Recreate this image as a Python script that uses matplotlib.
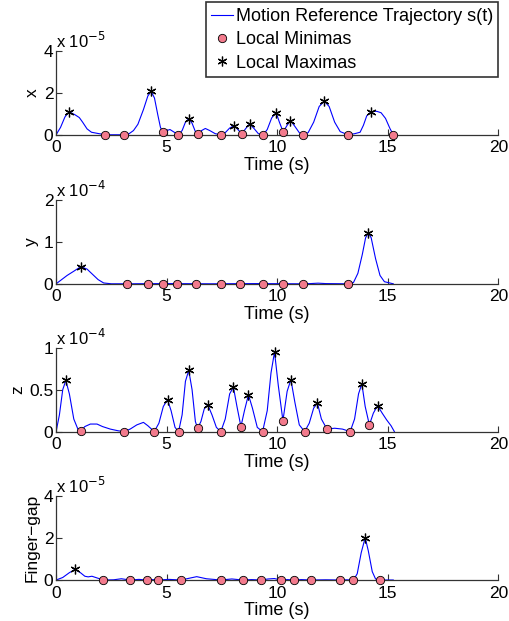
import matplotlib
matplotlib.use("Agg")
import matplotlib.pyplot as plt
from matplotlib.lines import Line2D

plt.rcParams['font.family'] = ['Liberation Sans', 'DejaVu Sans']
plt.rcParams['font.size'] = 12

# trajectory samples (time in s, value in units of the panel scale)
x_t = [0, 0.2, 0.4, 0.59, 0.86, 1.05, 1.2, 1.4, 1.6, 1.9, 2.23, 2.6, 3.08, 3.3, 3.5, 3.7, 3.95, 4.15,
       4.3, 4.45, 4.6, 4.72, 4.84, 5.0, 5.15, 5.3, 5.52, 5.7, 5.85, 6.0, 6.15, 6.3, 6.42, 6.58, 6.75,
       6.95, 7.2, 7.46, 7.65, 7.85, 8.05, 8.22, 8.4, 8.58, 8.75, 8.95, 9.15, 9.37, 9.55, 9.75, 9.95,
       10.1, 10.27, 10.45, 10.6, 10.8, 11.0, 11.17, 11.4, 11.65, 11.9, 12.13, 12.35, 12.6, 12.85,
       13.2, 13.5, 13.75, 13.9, 14.05, 14.25, 14.5, 14.7, 14.9, 15.1, 15.25]
x_v = [0, 0.35, 0.85, 1.1, 0.95, 0.82, 0.6, 0.28, 0.12, 0.06, 0, 0, 0, 0.05, 0.2, 0.5, 1.2, 1.85,
       2.07, 1.75, 0.95, 0.35, 0.12, 0.2, 0.25, 0.15, 0, 0.2, 0.6, 0.77, 0.55, 0.15, 0.03, 0.2, 0.3,
       0.2, 0.05, 0, 0.1, 0.32, 0.43, 0.25, 0.05, 0.3, 0.52, 0.3, 0.05, 0, 0.25, 0.8, 1.06,
       0.6, 0.14, 0.45, 0.68, 0.4, 0.1, 0, 0.1, 0.6, 1.35, 1.6, 1.35, 0.6, 0.15,
       0, 0.05, 0.12, 0.45, 0.9, 1.1, 1.12, 1.05, 0.78, 0.3, 0]
x_min_t = [2.23, 3.08, 4.84, 5.52, 6.42, 7.46, 8.4, 9.37, 10.27, 11.17, 13.2, 15.25]
x_min_v = [0, 0, 0.12, 0, 0.03, 0, 0.05, 0, 0.14, 0, 0, 0]
x_max_t = [0.59, 4.3, 6.0, 8.05, 8.75, 9.95, 10.6, 12.13, 14.25]
x_max_v = [1.1, 2.07, 0.77, 0.43, 0.52, 1.06, 0.68, 1.6, 1.1]

y_t = [0, 0.25, 0.5, 0.8, 1.12, 1.4, 1.7, 1.9, 2.15, 2.5, 3.2, 5.0, 7.0, 9.0, 11.0, 11.5, 11.85,
       12.2, 13.2, 13.45, 13.65, 13.85, 14.0, 14.12, 14.25, 14.45, 14.65, 14.85, 15.25]
y_v = [0, 0.1, 0.2, 0.3, 0.41, 0.35, 0.2, 0.1, 0.02, 0, 0, 0.005, 0, 0.005, 0, 0.005, 0.015,
       0.005, 0, 0.03, 0.25, 0.7, 1.1, 1.21, 1.1, 0.6, 0.2, 0.05, 0]
y_min_t = [3.2, 4.15, 4.85, 5.45, 6.33, 7.46, 8.33, 9.35, 10.27, 11.17, 13.2]
y_min_v = [0] * 11
y_max_t = [1.12, 14.12]
y_max_v = [0.41, 1.21]

z_t = [0, 0.15, 0.3, 0.44, 0.6, 0.8, 1.0, 1.12, 1.3, 1.55, 1.85, 2.1, 2.45, 2.8, 3.08, 3.35, 3.65,
       3.95, 4.15, 4.44, 4.65, 4.85, 5.04, 5.2, 5.38, 5.54, 5.7, 5.85, 6.0, 6.15, 6.3, 6.4, 6.55,
       6.7, 6.86, 7.05, 7.25, 7.45, 7.65, 7.85, 8.02, 8.18, 8.36, 8.52, 8.7, 8.88, 9.1, 9.34, 9.55,
       9.72, 9.88, 10.05, 10.26, 10.45, 10.62, 10.8, 11.0, 11.24, 11.45, 11.65, 11.82, 12.0, 12.25,
       12.6, 12.95, 13.3, 13.5, 13.68, 13.83, 13.98, 14.17, 14.35, 14.54, 14.75, 14.95, 15.15, 15.3]
z_v = [0, 0.2, 0.5, 0.61, 0.45, 0.15, 0.02, 0.01, 0.06, 0.09, 0.09, 0.06, 0.03, 0.01, 0, 0.03, 0.08,
       0.11, 0.07, 0, 0.1, 0.3, 0.38, 0.25, 0.05, 0, 0.2, 0.6, 0.73, 0.5, 0.12, 0.04, 0.12,
       0.27, 0.32, 0.2, 0.05, 0, 0.15, 0.45, 0.53, 0.3, 0.06, 0.25, 0.44, 0.28, 0.05, 0, 0.25,
       0.7, 0.95, 0.55, 0.13, 0.48, 0.62, 0.35, 0.08, 0, 0.1, 0.28, 0.34, 0.15, 0.03,
       0.04, 0.03, 0, 0.15, 0.45, 0.57, 0.3, 0.08, 0.22, 0.31, 0.22, 0.14, 0.07, 0]
z_min_t = [1.12, 3.08, 4.44, 5.54, 6.4, 7.45, 8.36, 9.34, 10.26, 11.24, 12.25, 13.3, 14.17]
z_min_v = [0.01, 0, 0, 0, 0.04, 0, 0.06, 0, 0.13, 0, 0.03, 0, 0.08]
z_max_t = [0.44, 5.04, 6.0, 6.86, 8.02, 8.7, 9.88, 10.62, 11.82, 13.83, 14.54]
z_max_v = [0.61, 0.38, 0.73, 0.32, 0.53, 0.44, 0.95, 0.62, 0.34, 0.57, 0.31]

g_t = [0, 0.3, 0.6, 0.86, 1.1, 1.3, 1.45, 1.62, 1.85, 2.14, 2.6, 2.95, 3.35, 3.75, 4.1, 4.35, 4.62,
       5.1, 5.66, 6.0, 6.36, 6.8, 7.45, 7.95, 8.45, 8.85, 9.26, 9.6, 9.87, 10.17, 10.45, 10.77,
       11.1, 11.52, 12.2, 12.85, 13.15, 13.45, 13.62, 13.8, 13.98, 14.12, 14.3, 14.45, 14.66, 15.25]
g_v = [0, 0.12, 0.35, 0.51, 0.35, 0.18, 0.15, 0.18, 0.1, 0, 0.01, 0.06, 0, 0.03, 0, 0.02, 0,
       0.03, 0, 0.08, 0.16, 0.06, 0, 0.05, 0, 0.02, 0, 0.05, 0.07, 0, 0.02, 0,
       0.02, 0, 0.01, 0, 0.01, 0, 0.3, 1.3, 2.02, 1.4, 0.4, 0.05, 0, 0]
g_min_t = [2.14, 3.35, 4.1, 4.62, 5.66, 7.45, 8.45, 9.26, 10.17, 10.77, 11.52, 12.85, 13.45, 14.66]
g_min_v = [0] * 14
g_max_t = [0.86, 13.98]
g_max_v = [0.51, 2.02]

panels = [
    ("x", x_t, x_v, x_min_t, x_min_v, x_max_t, x_max_v, [0, 2, 4], "-5"),
    ("y", y_t, y_v, y_min_t, y_min_v, y_max_t, y_max_v, [0, 1, 2], "-4"),
    ("z", z_t, z_v, z_min_t, z_min_v, z_max_t, z_max_v, [0, 0.5, 1], "-4"),
    ("Finger\u2212gap", g_t, g_v, g_min_t, g_min_v, g_max_t, g_max_v, [0, 2, 4], "-5"),
]
bottoms = [0.783, 0.543, 0.305, 0.066]

pink = "#F27A8C"
asterisk = (6, 2, 0)  # six-armed asterisk like the matlab '*'
fig = plt.figure(figsize=(5.1, 6.21), dpi=100)

for (name, t, v, mt, mv, Mt, Mv, yt, expo), b in zip(panels, bottoms):
    ax = fig.add_axes([0.110, b, 0.867, 0.135])
    ax.plot(t, v, color="blue", lw=0.8, zorder=2)
    ax.plot(mt, mv, "o", ms=6, mfc=pink, mec="black", mew=0.6, zorder=3, clip_on=False)
    ax.plot(Mt, Mv, marker=asterisk, ls="none", ms=7, color="black", mew=0.9, zorder=4, clip_on=False)
    ax.set_xlim(0, 20)
    ax.set_ylim(yt[0], yt[-1])
    ax.set_xticks([0, 5, 10, 15, 20])
    ax.set_yticks(yt)
    ax.set_yticklabels([("%g" % y) for y in yt])
    for s in ["top", "right"]:
        ax.spines[s].set_visible(False)
    for s in ["left", "bottom"]:
        ax.spines[s].set_color("#333333")
        ax.spines[s].set_linewidth(0.9)
    ax.tick_params(direction="in", length=4, width=0.8, color="#333333", labelsize=12.5)
    ax.tick_params(axis="x", pad=4)
    ax.tick_params(axis="y", pad=2)
    ax.set_xlabel("Time (s)", fontsize=13, labelpad=1)
    ax.set_ylabel(name, fontsize=12.5, labelpad=3)
    ax.text(0.0, 1.0, "x 10$^{%s}$" % expo.replace("-", "\u2212"), transform=ax.transAxes,
            fontsize=12, ha="left", va="bottom")
    ax.patch.set_alpha(0)

handles = [
    Line2D([], [], color="blue", lw=0.8),
    Line2D([], [], marker="o", ls="none", ms=6, mfc=pink, mec="black", mew=0.6),
    Line2D([], [], marker=asterisk, ls="none", ms=7, color="black", mew=0.9),
]
labels = ["Motion Reference Trajectory s(t)", "Local Minimas", "Local Maximas"]
leg = fig.legend(handles, labels, loc="upper right", bbox_to_anchor=(0.977, 0.996),
                 fontsize=13, frameon=True, fancybox=False, handlelength=1.2,
                 handletextpad=0.15, labelspacing=0.35, borderpad=0.3, borderaxespad=0)
leg.get_frame().set_edgecolor("black")
leg.get_frame().set_linewidth(1.2)

fig.savefig("out.png", dpi=100)
